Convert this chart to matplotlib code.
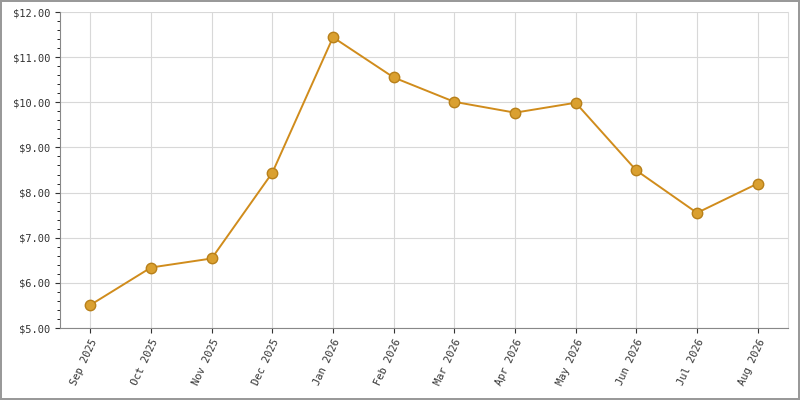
import matplotlib
matplotlib.use("Agg")
import matplotlib.pyplot as plt
from matplotlib.ticker import MultipleLocator, FuncFormatter

months = ["Sep 2025","Oct 2025","Nov 2025","Dec 2025","Jan 2026","Feb 2026",
          "Mar 2026","Apr 2026","May 2026","Jun 2026","Jul 2026","Aug 2026"]
prices = [5.51, 6.34, 6.54, 8.44, 11.44, 10.55, 10.01, 9.77, 9.99, 8.49, 7.55, 8.20]

plt.rcParams['font.family'] = ['DejaVu Sans Mono']
fig = plt.figure(figsize=(8, 4), dpi=100)
fig.patch.set_facecolor('white')
fig.patch.set_edgecolor('#999999')
fig.patch.set_linewidth(1.5)
ax = fig.add_axes([0.075, 0.18, 0.91, 0.79])
x = list(range(len(months)))
ax.plot(x, prices, color='#d08c1c', lw=1.4, marker='o', ms=7.5,
        mfc='#daa030', mec='#b8801a', mew=1, zorder=3)
ax.set_xlim(-0.5, 11.5)
ax.set_ylim(5, 12)
ax.yaxis.set_major_locator(MultipleLocator(1))
ax.yaxis.set_minor_locator(MultipleLocator(0.2))
ax.yaxis.set_major_formatter(FuncFormatter(lambda v, p: f"${v:.2f}"))
ax.set_xticks(x)
ax.set_xticklabels(months, rotation=65, ha='right', rotation_mode='anchor')
ax.tick_params(labelsize=7.5, colors='#333333')
ax.tick_params(axis='y', which='minor', length=2)
ax.grid(True, color='#d8d8d8', lw=0.8)
for s in ['top']:
    ax.spines[s].set_visible(False)
ax.spines['right'].set_color('#dddddd')
for s in ['left', 'bottom']:
    ax.spines[s].set_color('#888888')
fig.savefig('out.png', dpi=100)
